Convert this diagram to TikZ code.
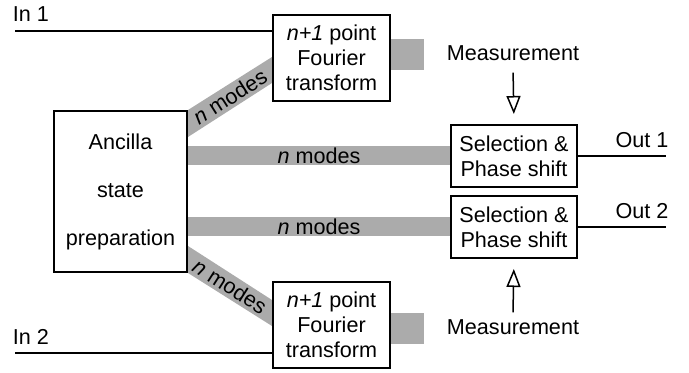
\documentclass[tikz,border=0pt]{standalone}
\usepackage{fontspec}
\setmainfont{Liberation Sans}
\usepackage{tikz}
\usetikzlibrary{arrows.meta, backgrounds}

\begin{document}
\begin{tikzpicture}[x=0.5pt, y=-0.5pt, font=\fontsize{10.8}{12.5}\selectfont,
	box/.style = {draw, line width=1pt, align=center, inner sep=0pt},
	ftbox/.style = {box, minimum width=58.5pt, minimum height=43pt},
	selbox/.style = {box, minimum width=63pt, minimum height=31pt, text depth=0pt},
	band/.style = {fill=black!33},
	wire/.style = {line width=0.75pt},
	meas/.style = {line width=0.75pt, -{Triangle[open, length=9pt, width=7pt]}}]
	\useasboundingbox (0,0) rectangle (689,373);
	\node[box, minimum width=66.5pt, minimum height=80.5pt] (anc) at (120.5,191.5) {Ancilla\\[11.5pt]state\\[11.5pt]preparation};
	\node[ftbox] (ftA) at (331.5,58) {\textit{n+1} point\\Fourier\\transform};
	\node[ftbox] (ftB) at (331.5,325) {\textit{n+1} point\\Fourier\\transform};
	\node[selbox] (selA) at (514,156) {Selection \&\\Phase shift};
	\node[selbox] (selB) at (514,227) {Selection \&\\Phase shift};
	\node (in1lbl) at (31,14.5) {In 1};
	\node (in2lbl) at (31,337) {In 2};
	\node (out1lbl) at (642,140) {Out 1};
	\node (out2lbl) at (642,211) {Out 2};
	\node (measA) at (513,53) {Measurement};
	\node (measB) at (513,327) {Measurement};
	\coordinate (in1) at (15,31);
	\coordinate (in2) at (15,353);
	\coordinate (out1) at (666,156);
	\coordinate (out2) at (666,227);
	\begin{scope}[on background layer]
		\fill[band] (anc.north east) -- ([yshift=.5pt]ftA.west) -- ([yshift=-12.5pt]ftA.west) -- ([yshift=-13.5pt]anc.north east) -- cycle;
		\fill[band] (anc.south east) -- ([yshift=-.5pt]ftB.west) -- ([yshift=12.5pt]ftB.west) -- ([yshift=13.5pt]anc.south east) -- cycle;
		\draw[black!33, line width=9.5pt] (anc.east |- selA.west) -- (selA.west);
		\draw[black!33, line width=9.5pt] (anc.east |- selB.west) -- (selB.west);
		\fill[band] ([yshift=9.5pt]ftA.east) rectangle ++(16.5pt,-15.5pt);
		\fill[band] ([yshift=6pt]ftB.east) rectangle ++(16.5pt,-15.5pt);
	\end{scope}
	\path ([yshift=-6.75pt]anc.north east) -- node[sloped] {\textit{n} modes} ([yshift=-6pt]ftA.west);
	\path ([yshift=6.75pt]anc.south east) -- node[sloped] {\textit{n} modes} ([yshift=6pt]ftB.west);
	\path (anc.east |- selA.west) -- node {\textit{n} modes} (selA.west);
	\path (anc.east |- selB.west) -- node {\textit{n} modes} (selB.west);
	\draw[wire] (in1) -- (in1 -| ftA.west);
	\draw[wire] (in2) -- (in2 -| ftB.west);
	\draw[wire] (selA.east) -- (out1);
	\draw[wire] (selB.east) -- (out2);
	\draw[meas, shorten <=2.5pt, shorten >=5pt] (measA.south) -- (selA.north);
	\draw[meas, shorten >=5pt] (measB.north) -- (selB.south);
\end{tikzpicture}
\end{document}
